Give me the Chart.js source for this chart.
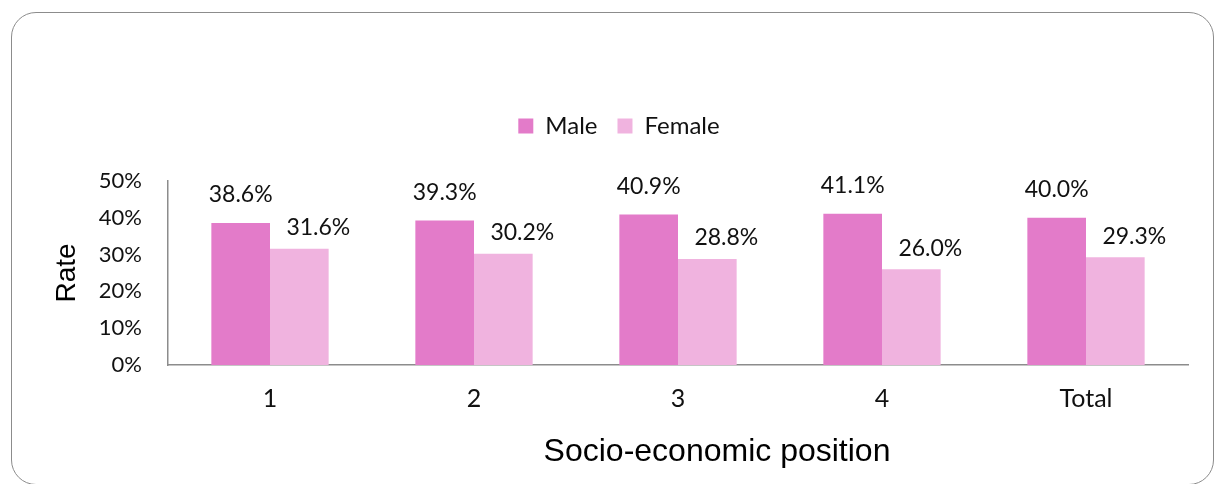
<!DOCTYPE html>
<html>
<head>
  <title>Rate by socio-economic position</title>
  <script src="https://cdn.jsdelivr.net/npm/chart.js"></script>
  <style>
    body { margin: 0; overflow: hidden; background: #fff; }
    #frame { position: absolute; left: 11px; top: 12px; width: 1201px; height: 471px;
             border: 1.5px solid #8c8c8c; border-radius: 25px; }
    #myChart { position: absolute; left: 0; top: 0; }
  </style>
</head>
<body>
  <div id="frame"></div>
  <canvas id="myChart" width="1217" height="484"></canvas>

  <script>
    // Datos
    var categories = ['1', '2', '3', '4', 'Total'];
    var maleRates = [38.6, 39.3, 40.9, 41.1, 40.0];
    var femaleRates = [31.6, 30.2, 28.8, 26.0, 29.3];
    var yMin = 0, yMax = 50, yStep = 10;

    // etiquetas sobre las barras + titulo del eje x
    var barLabels = {
      id: 'barLabels',
      afterDatasetsDraw: function(chart) {
        var ctx = chart.ctx;
        ctx.save();
        ctx.font = '23px Lato';
        ctx.fillStyle = '#111';
        ctx.textAlign = 'center';
        ctx.textBaseline = 'middle';
        chart.data.datasets.forEach(function(ds, i) {
          var meta = chart.getDatasetMeta(i);
          meta.data.forEach(function(bar, j) {
            ctx.fillText(ds.data[j].toFixed(1) + '%', bar.x + ds.labelDx, bar.y + ds.labelDy);
          });
        });
        ctx.font = '32px "Liberation Sans"';
        ctx.fillStyle = '#000';
        ctx.fillText('Socio-economic position', (chart.chartArea.left + chart.chartArea.right) / 2 + 39, 452);
        ctx.restore();
      }
    };

    // espacio extra bajo la leyenda
    var legendGap = {
      id: 'legendGap',
      beforeInit: function(chart) {
        var fit = chart.legend.fit;
        chart.legend.fit = function() {
          fit.bind(chart.legend)();
          this.height += 33;
        };
      }
    };

    var ctx = document.getElementById('myChart').getContext('2d');
    var myChart = new Chart(ctx, {
      type: 'bar',
      data: {
        labels: categories,
        datasets: [{
          label: 'Male',
          data: maleRates,
          backgroundColor: '#E37BC9',
          categoryPercentage: 0.575,
          barPercentage: 1,
          labelDx: 0,
          labelDy: -28
        }, {
          label: 'Female',
          data: femaleRates,
          backgroundColor: '#F0B3DF',
          categoryPercentage: 0.575,
          barPercentage: 1,
          labelDx: 19,
          labelDy: -21
        }]
      },
      options: {
        responsive: false,
        animation: false,
        layout: { padding: { left: 50, right: 29, top: 94, bottom: 0 } },
        plugins: {
          tooltip: { enabled: false },
          legend: {
            position: 'top',
            labels: {
              boxWidth: 15,
              boxHeight: 15,
              padding: 20,
              color: '#111',
              font: { family: 'Lato', size: 24 }
            }
          }
        },
        scales: {
          x: {
            grid: { display: false, drawTicks: false },
            border: { display: true, color: '#8c8c8c', width: 1.5 },
            ticks: { color: '#111', padding: 19, font: { family: 'Lato', size: 25 } },
            afterFit: function(scale) { scale.height = 119; }
          },
          y: {
            min: yMin,
            max: yMax,
            grid: { display: false, drawTicks: false },
            border: { display: true, color: '#8c8c8c', width: 1.5 },
            ticks: {
              stepSize: yStep,
              color: '#111',
              padding: 26,
              font: { family: 'Lato', size: 22 },
              callback: function(v) { return v + '%'; }
            },
            title: {
              display: true,
              text: 'Rate',
              color: '#000',
              padding: { top: 0, bottom: 0 },
              font: { family: 'Liberation Sans', size: 28 }
            },
            afterFit: function(scale) { scale.width = 118; }
          }
        }
      },
      plugins: [barLabels, legendGap]
    });
  </script>
</body>
</html>
